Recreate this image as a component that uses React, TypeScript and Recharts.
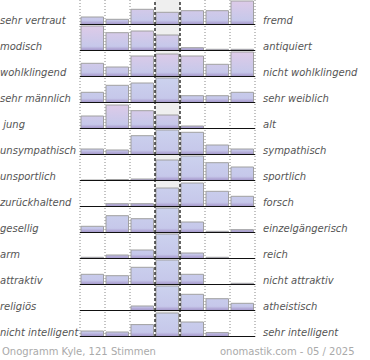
import { BarChart, Bar, XAxis, YAxis, ReferenceLine, ReferenceArea } from 'recharts';

// semantic differential: left pole / right pole per row
const leftLabels = [
  'sehr vertraut', 'modisch', 'wohlklingend', 'sehr männlich', ' jung', 'unsympathisch',
  'unsportlich', 'zurückhaltend', 'gesellig', 'arm', 'attraktiv', 'religiös', 'nicht intelligent',
];
const rightLabels = [
  'fremd', 'antiquiert', 'nicht wohlklingend', 'sehr weiblich', 'alt', 'sympathisch',
  'sportlich', 'forsch', 'einzelgängerisch', 'reich', 'nicht attraktiv', 'atheistisch', 'sehr intelligent',
];

// share of votes per scale step (1..7), scaled to the row height
const sehrVertraut = [8, 5.7, 15.7, 12.7, 14.3, 14.3, 24];
const modisch = [25, 18.3, 20, 16, 3.3, 1.7, 1.7];
const wohlklingend = [13.7, 10, 21, 23, 21, 12.7, 25];
const maennlich = [10.7, 17.7, 20, 25, 7.3, 7.3, 10.7];
const jung = [13, 24, 18.3, 14, 3, 0, 0];
const unsympathisch = [6, 5, 19.3, 25, 22.7, 10, 6];
const unsportlich = [1, 1.5, 2, 21, 25, 18.3, 14];
const zurueckhaltend = [0, 3.3, 3.3, 19, 24, 15.7, 10.7];
const gesellig = [6.7, 17.3, 14.3, 25, 11, 1.7, 3.3];
const arm = [1.7, 4, 9, 25, 6, 1.7, 0.5];
const attraktiv = [10.7, 9.3, 17.7, 25, 10.7, 0.5, 1.7];
const religioes = [0, 0, 5, 25, 16.7, 12.3, 7.7];
const intelligent = [6, 5, 12.4, 24, 15, 4.4, 0];

const rows = [
  sehrVertraut, modisch, wohlklingend, maennlich, jung, unsympathisch,
  unsportlich, zurueckhaltend, gesellig, arm, attraktiv, religioes, intelligent,
];

const footerLeft = 'Onogramm Kyle, 121 Stimmen';
const footerRight = 'onomastik.com - 05 / 2025';

const pinkRows = [0, 1, 2, 4];
const ROW_H = 26;
const font = '"DejaVu Sans", sans-serif';

function Row({ values, index }: { values: number[]; index: number }) {
  const data = values.map((v, i) => ({ x: i + 0.5, v }));
  const gid = `grad-${index}`;
  const top = pinkRows.includes(index) ? '#dfcbe8' : '#ccd2ee';
  return (
    <div style={{ position: 'absolute', left: 0, top: index * ROW_H - 1 }}>
      <BarChart width={370} height={ROW_H} data={data} margin={{ top: 0, right: 115, bottom: 0, left: 80 }}>
        <defs>
          <linearGradient id={gid} x1="0" y1="0" x2="0" y2={ROW_H} gradientUnits="userSpaceOnUse">
            <stop offset="0" stopColor={top} />
            <stop offset="0.82" stopColor="#c6c8ea" />
            <stop offset="0.9" stopColor="#b4acd8" />
            <stop offset="1" stopColor="#9e92c8" />
          </linearGradient>
        </defs>
        <XAxis type="number" dataKey="x" domain={[0, 7]} hide />
        <YAxis type="number" domain={[0, 26]} hide />
        <ReferenceArea x1={3} x2={4} fill="#efefef" fillOpacity={1} stroke="none" />
        <Bar dataKey="v" barSize={25} fill={`url(#${gid})`} stroke="#a0a0a0" strokeWidth={1} isAnimationActive={false} />
        {[0, 1, 2, 5, 6, 7].map(x => (
          <ReferenceLine key={x} x={x} stroke="#888" strokeDasharray="1 2" />
        ))}
        <ReferenceLine x={3} stroke="#000" strokeWidth={1.2} strokeDasharray="3 2" />
        <ReferenceLine x={4} stroke="#000" strokeWidth={1.2} strokeDasharray="3 2" />
        <ReferenceLine y={0} stroke="#111" strokeWidth={2} />
      </BarChart>
      <span style={{ ...labelStyle, left: 0 }}>{leftLabels[index]}</span>
      <span style={{ ...labelStyle, left: 263 }}>{rightLabels[index]}</span>
    </div>
  );
}

const labelStyle: React.CSSProperties = {
  position: 'absolute',
  top: 16,
  fontFamily: font,
  fontStyle: 'italic',
  fontSize: 10,
  lineHeight: '12px',
  color: '#555',
  whiteSpace: 'pre',
};

export default function App() {
  return (
    <div style={{ position: 'absolute', left: 0, top: 0, width: 370, height: 360, background: '#fff', overflow: 'hidden' }}>
      {rows.map((values, i) => (
        <Row key={i} values={values} index={i} />
      ))}
      <span style={{ position: 'absolute', left: 2, top: 346, fontFamily: font, fontSize: 10, lineHeight: '12px', color: '#aaa', whiteSpace: 'pre' }}>
        {footerLeft}
      </span>
      <span style={{ position: 'absolute', left: 220, top: 346, fontFamily: font, fontSize: 10, lineHeight: '12px', color: '#aaa', whiteSpace: 'pre' }}>
        {footerRight}
      </span>
    </div>
  );
}
